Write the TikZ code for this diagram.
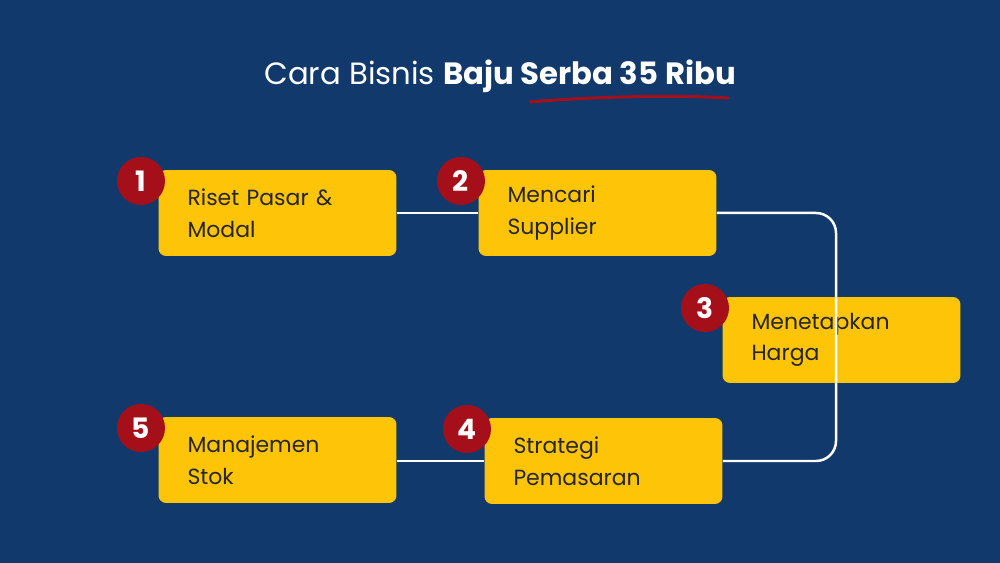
\documentclass[tikz,border=0pt]{standalone}
\usepackage{fontspec}
\setmainfont{Poppins}
\usetikzlibrary{positioning}
\definecolor{navy}{HTML}{12396B}
\definecolor{stepyellow}{HTML}{FEC408}
\definecolor{stepred}{HTML}{A50F1A}
\tikzstyle{box}=[fill=stepyellow, rounded corners=1.5mm, minimum width=4.76cm, minimum height=1.72cm, text width=3.6cm, align=left, inner sep=0pt, font={\fontsize{12.5}{18}\selectfont}, text=black!85]
\tikzstyle{badge}=[circle, fill=stepred, minimum size=0.96cm, inner sep=0pt, text=white, font={\fontsize{16}{16}\selectfont\bfseries}]
\tikzstyle{link}=[white, line width=0.5mm, rounded corners=4mm]

\begin{document}
\begin{tikzpicture}[x=0.02cm, y=-0.02cm]

    \fill[navy] (0,0) rectangle (1000,563);
    \useasboundingbox (0,0) rectangle (1000,563);

    \node[white, font={\fontsize{17.5}{20}\selectfont}] (title) at (500,76) {Cara Bisnis \textbf{Baju Serba 35 Ribu}};
    \draw[stepred, line width=0.6mm, line cap=round] (530,102) .. controls (600,96) and (680,95) .. (728,98);

    \node[box, xshift=0.35cm] (riset) at (260,213) {Riset Pasar \&\\Modal};
    \node[box, xshift=0.35cm] (supplier) at (580,213) {Mencari\\Supplier};
    \node[box, xshift=0.35cm] (harga) at (824,340) {Menetapkan\\Harga};
    \node[box, xshift=0.35cm] (strategi) at (586,461) {Strategi\\Pemasaran};
    \node[box, xshift=0.35cm] (stok) at (260,460) {Manajemen\\Stok};

    \coordinate (turn) at (836,0);
    \draw[link] (riset.east) -- (supplier.west);
    \draw[link] (supplier.east) -- (supplier.east -| turn) -- (strategi.east -| turn) -- (strategi.east);
    \draw[link] (strategi.west) -- (strategi.west -| stok.east);

    \node[badge] (n1) at (141,181) {1};
    \node[badge] (n2) at (461,181) {2};
    \node[badge] (n3) at (705,308) {3};
    \node[badge] (n4) at (467,429) {4};
    \node[badge] (n5) at (141,428) {5};

\end{tikzpicture}
\end{document}
